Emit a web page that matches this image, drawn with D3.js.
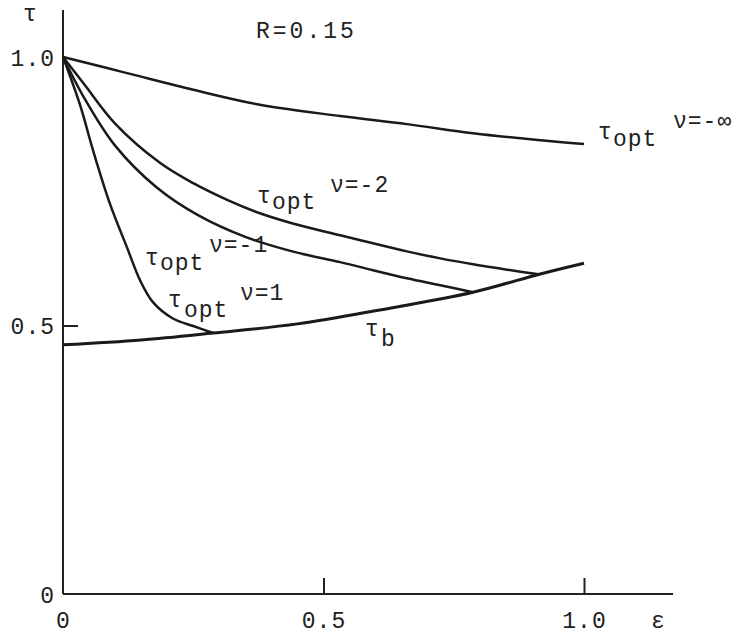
<!DOCTYPE html>
<html>
<head>
<meta charset="utf-8">
<script src="https://cdn.jsdelivr.net/npm/d3@7"></script>
<style>
    body { margin: 0; background: #fff; }
    text { font-family: "Liberation Mono", "DejaVu Sans Mono", monospace; fill: #222; }
</style>
</head>
<body>
<div id="chart"></div>
<script>
// values (epsilon, tau)
const epsB = [0, 0.15, 0.288, 0.45, 0.608, 0.787, 0.916, 1.0];
const tauB = [0.464, 0.473, 0.486, 0.503, 0.529, 0.562, 0.596, 0.616];

const epsNu1 = [0, 0.033, 0.058, 0.090, 0.123, 0.148, 0.173, 0.211, 0.250, 0.288];
const tauNu1 = [1.0, 0.910, 0.825, 0.727, 0.645, 0.584, 0.543, 0.513, 0.499, 0.486];

const epsNuM1 = [0, 0.04, 0.1, 0.18, 0.26, 0.35, 0.44, 0.532, 0.595, 0.66, 0.724, 0.787];
const tauNuM1 = [1.0, 0.925, 0.835, 0.757, 0.705, 0.665, 0.638, 0.618, 0.603, 0.588, 0.575, 0.562];

const epsNuM2 = [0, 0.04, 0.1, 0.186, 0.25, 0.315, 0.378, 0.441, 0.532, 0.595, 0.66, 0.724, 0.787, 0.852, 0.916];
const tauNuM2 = [1.0, 0.95, 0.876, 0.803, 0.765, 0.734, 0.709, 0.690, 0.668, 0.653, 0.638, 0.625, 0.614, 0.604, 0.595];

const epsNuInf = [0, 0.123, 0.25, 0.378, 0.532, 0.66, 0.787, 0.916, 1.0];
const tauNuInf = [1.0, 0.970, 0.939, 0.911, 0.890, 0.875, 0.858, 0.845, 0.838];

const xTicks = [0, 0.5, 1.0];
const xTickLabels = ["0", "0.5", "1.0"];
const yTicks = [0, 0.5, 1.0];
const yTickLabels = ["0", "0.5", "1.0"];

const width = 743, height = 635;
const fontSize = "23px";

let svg = d3.select("#chart")
    .append("svg")
    .attr("width", width)
    .attr("height", height);

// scales: origin at (63, 594)
let x = d3.scaleLinear().domain([0, 1]).range([63, 584]);
let y = d3.scaleLinear().domain([0, 1]).range([594, 57]);

// axis lines (they run past the last tick)
svg.append("line")
    .attr("x1", x(0)).attr("x2", x(0))
    .attr("y1", y(0)).attr("y2", y(1.0875))
    .attr("stroke", "#222").attr("stroke-width", 2);
svg.append("line")
    .attr("x1", x(0)).attr("x2", x(1.171))
    .attr("y1", y(0)).attr("y2", y(0))
    .attr("stroke", "#222").attr("stroke-width", 2.2);

// x ticks point up into the plot
let xAxis = svg.append("g")
    .attr("transform", `translate(0,${y(0)})`)
    .call(d3.axisBottom(x).tickValues(xTicks).tickSize(-16).tickFormat((d, i) => xTickLabels[i]));
xAxis.select(".domain").remove();
xAxis.selectAll(".tick line")
    .attr("stroke", "#222").attr("stroke-width", 2)
    .filter(d => d === 0).remove();
xAxis.selectAll(".tick text")
    .attr("y", 34).attr("dy", 0)
    .attr("fill", "#222")
    .style("font-size", fontSize)
    .style("letter-spacing", "1px");

// y ticks point right into the plot
let yAxis = svg.append("g")
    .attr("transform", `translate(${x(0)},0)`)
    .call(d3.axisLeft(y).tickValues(yTicks).tickSize(-15).tickFormat((d, i) => yTickLabels[i]));
yAxis.select(".domain").remove();
yAxis.selectAll(".tick line")
    .attr("stroke", "#222").attr("stroke-width", 2)
    .filter(d => d !== 0.5).remove();
yAxis.selectAll(".tick text")
    .attr("x", -8).attr("dy", "0.35em")
    .attr("fill", "#222")
    .style("font-size", fontSize)
    .style("letter-spacing", "1px");

// axis names
svg.append("text").attr("x", 30).attr("y", 21).attr("text-anchor", "middle")
    .style("font-size", fontSize).text("τ");
svg.append("text").attr("x", 658).attr("y", 628).attr("text-anchor", "middle")
    .style("font-size", fontSize).text("ε");

svg.append("text").attr("x", 256).attr("y", 38)
    .style("font-size", fontSize).style("letter-spacing", "3px").text("R=0.15");

// curves
let line = d3.line()
    .x(d => x(d[0]))
    .y(d => y(d[1]))
    .curve(d3.curveCatmullRom.alpha(0.5));

let curves = [
    { eps: epsNuInf, tau: tauNuInf, w: 2.5 },
    { eps: epsNuM2, tau: tauNuM2, w: 2.5 },
    { eps: epsNuM1, tau: tauNuM1, w: 2.5 },
    { eps: epsNu1, tau: tauNu1, w: 2.5 },
    { eps: epsB, tau: tauB, w: 3 }
];

curves.forEach(c => {
    svg.append("path")
        .datum(d3.zip(c.eps, c.tau))
        .attr("fill", "none")
        .attr("stroke", "#1a1a1a")
        .attr("stroke-width", c.w)
        .attr("stroke-linejoin", "round")
        .attr("d", line);
});

// curve labels: tau, subscript "opt", superscript nu
function optLabel(tx, ty, subX, subY, supX, supY, sup) {
    let t = svg.append("text").style("font-size", fontSize);
    t.append("tspan").attr("x", tx).attr("y", ty).text("τ");
    t.append("tspan").attr("x", subX).attr("y", subY).style("letter-spacing", "1px").text("opt");
    t.append("tspan").attr("x", supX).attr("y", supY).style("letter-spacing", "1px").text(sup);
}

optLabel(598, 139, 613, 146, 673, 128, "ν=-∞");
optLabel(257, 203, 272, 209, 330, 192, "ν=-2");
optLabel(145, 265, 160, 270, 209, 252, "ν=-1");
optLabel(168, 307, 184, 317, 240, 300, "ν=1");

let tb = svg.append("text").style("font-size", fontSize);
tb.append("tspan").attr("x", 365).attr("y", 336).text("τ");
tb.append("tspan").attr("x", 381).attr("y", 346).text("b");
</script>
</body>
</html>
